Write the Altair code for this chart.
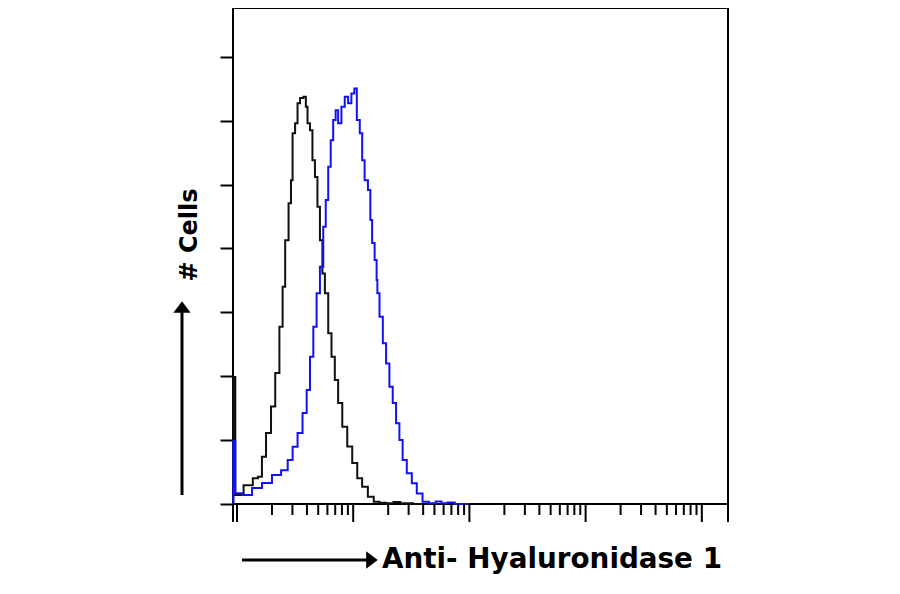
import altair as alt
import pandas as pd

# ---- data (fluorescence intensity, log scale; counts) ----
BLACK_X = [0.925, 0.935, 1.0, 1.30, 1.44, 1.59, 1.69, 1.87, 2.06, 2.21, 2.43, 2.51, 2.69,
           2.87, 2.96, 3.06, 3.27, 3.37, 3.61, 3.85, 3.98, 4.11, 4.39, 4.53, 4.85, 5.00,
           5.35, 5.52, 5.90, 6.30, 6.72, 7.18, 7.67, 8.46, 9.34, 10.3, 11.4, 12.5, 14.3,
           15.8, 17.9, 20.5, 24.0, 27.0, 40.0, 60.0]
BLACK_Y = [0, 39.8, 2.8, 5.9, 8.1, 8.5, 14.8, 22.2, 30.5, 41.0, 55.5, 68.0, 82.6,
           94.2, 101.4, 116.1, 119.2, 125.5, 127.1, 127.5, 124.4, 119.2, 117.0, 107.6, 102.4, 93.1,
           82.6, 72.2, 66.0, 53.5, 46.1, 38.8, 31.6, 24.2, 18.0, 12.8, 8.1, 5.4, 2.3,
           0.7, 0.4, 0.2, 0.6, 0.2, 0, 0]

BLUE_X = [0.925, 0.935, 1.0, 1.22, 1.49, 1.81, 2.21, 2.60, 2.87, 3.16, 3.49, 3.85, 4.11,
          4.39, 4.69, 5.00, 5.35, 5.71, 5.90, 6.30, 6.51, 6.95, 7.18, 7.67, 8.18, 8.75,
          9.34, 9.96, 10.5, 11.0, 11.8, 12.1, 13.0, 13.8, 14.3, 14.8, 15.8, 16.0, 16.3,
          17.4, 18.6, 19.8, 21.2, 22.6, 24.2, 25.8, 27.5, 30.4, 33.6, 37.0, 42.2, 47.8,
          55.0, 60.0, 70.0, 80.0, 100.0]
BLUE_Y = [0, 19.7, 3.4, 2.8, 5.0, 6.6, 9.1, 10.6, 13.8, 17.9, 22.2, 28.5, 35.7,
          46.1, 55.5, 66.0, 74.3, 86.8, 95.2, 105.6, 113.9, 120.2, 123.3, 119.2, 124.4, 127.5,
          125.5, 128.5, 130.1, 120.2, 116.1, 107.6, 101.4, 98.3, 88.9, 81.7, 76.4, 70.1, 66.0,
          58.6, 50.3, 44.0, 36.7, 31.6, 25.3, 20.0, 13.8, 9.6, 6.5, 3.3, 0.7, 0.2,
          0.8, 0.2, 0.5, 0, 0]

X_DOMAIN = [0.924, 16800]
Y_DOMAIN = [0, 155.3]
Y_TICKS = [0, 20, 40, 60, 80, 100, 120, 140]
MAJOR_TICKS = [1, 10, 100, 1000, 10000]
MINOR_TICKS = [m * d for d in [1, 10, 100, 1000] for m in range(2, 10)]

X_TITLE = "Anti- Hyaluronidase 1"
Y_TITLE = "# Cells"

W, H = 495, 496

df = pd.concat([
    pd.DataFrame({"x": BLACK_X, "y": BLACK_Y, "series": "control", "i": range(len(BLACK_X))}),
    pd.DataFrame({"x": BLUE_X, "y": BLUE_Y, "series": "antibody", "i": range(len(BLUE_X))}),
])

xscale = alt.Scale(type="log", domain=X_DOMAIN, nice=False)
yscale = alt.Scale(domain=Y_DOMAIN, nice=False, zero=False)

lines = alt.Chart(df).mark_line(interpolate="step", strokeWidth=2).encode(
    x=alt.X("x:Q", scale=xscale, axis=None),
    y=alt.Y("y:Q", scale=yscale,
            axis=alt.Axis(values=Y_TICKS, labels=False, domain=False, grid=False,
                          tickSize=13, tickWidth=2, tickColor="black", title=None)),
    color=alt.Color("series:N", scale=alt.Scale(domain=["control", "antibody"],
                                                range=["#111111", "#1212f2"]), legend=None),
    order="i:Q",
    detail="series:N",
)

major_df = pd.DataFrame({"t": MAJOR_TICKS + X_DOMAIN})
minor_df = pd.DataFrame({"t": MINOR_TICKS})

major = alt.Chart(major_df).mark_rule(color="black", strokeWidth=2).encode(
    x=alt.X("t:Q", scale=xscale, axis=None),
    y=alt.value(H), y2=alt.value(H + 18),
)
minor = alt.Chart(minor_df).mark_rule(color="black", strokeWidth=2).encode(
    x=alt.X("t:Q", scale=xscale, axis=None),
    y=alt.value(H), y2=alt.value(H + 11),
)

# axis titles with arrows
ytitle = alt.Chart(pd.DataFrame({"t": [Y_TITLE]})).mark_text(
    angle=270, align="center", baseline="alphabetic", font="DejaVu Sans",
    fontWeight="bold", fontSize=24, color="black"
).encode(text="t:N", x=alt.value(-36), y=alt.value(227))

yarrow = alt.Chart(pd.DataFrame({"a": [0]})).mark_rule(color="black", strokeWidth=3).encode(
    x=alt.value(-51), y=alt.value(487), y2=alt.value(302))
yhead = alt.Chart(pd.DataFrame({"a": [0]})).mark_point(
    shape="M-1,0.67L1,0.67L0,-0.67Z", filled=True, color="black", size=300, opacity=1
).encode(x=alt.value(-51), y=alt.value(299))

xtitle = alt.Chart(pd.DataFrame({"t": [X_TITLE]})).mark_text(
    align="left", baseline="alphabetic", font="DejaVu Sans",
    fontWeight="bold", fontSize=27.8, color="black"
).encode(text="t:N", x=alt.value(149), y=alt.value(560))

xarrow = alt.Chart(pd.DataFrame({"a": [0]})).mark_rule(color="black", strokeWidth=3).encode(
    x=alt.value(9), x2=alt.value(136), y=alt.value(552))
xhead = alt.Chart(pd.DataFrame({"a": [0]})).mark_point(
    shape="M-0.67,-1L0.67,0L-0.67,1Z", filled=True, color="black", size=300, opacity=1
).encode(x=alt.value(139), y=alt.value(552))

chart = alt.layer(lines, major, minor, ytitle, yarrow, yhead, xtitle, xarrow, xhead).properties(
    width=W, height=H,
    autosize=alt.AutoSizeParams(type="none"),
    padding={"left": 225, "top": 0, "right": 164, "bottom": 82},
    background="white",
).configure_view(stroke="black", strokeWidth=2)

chart.save("out.html", embed_options={"renderer": "svg", "actions": False})
